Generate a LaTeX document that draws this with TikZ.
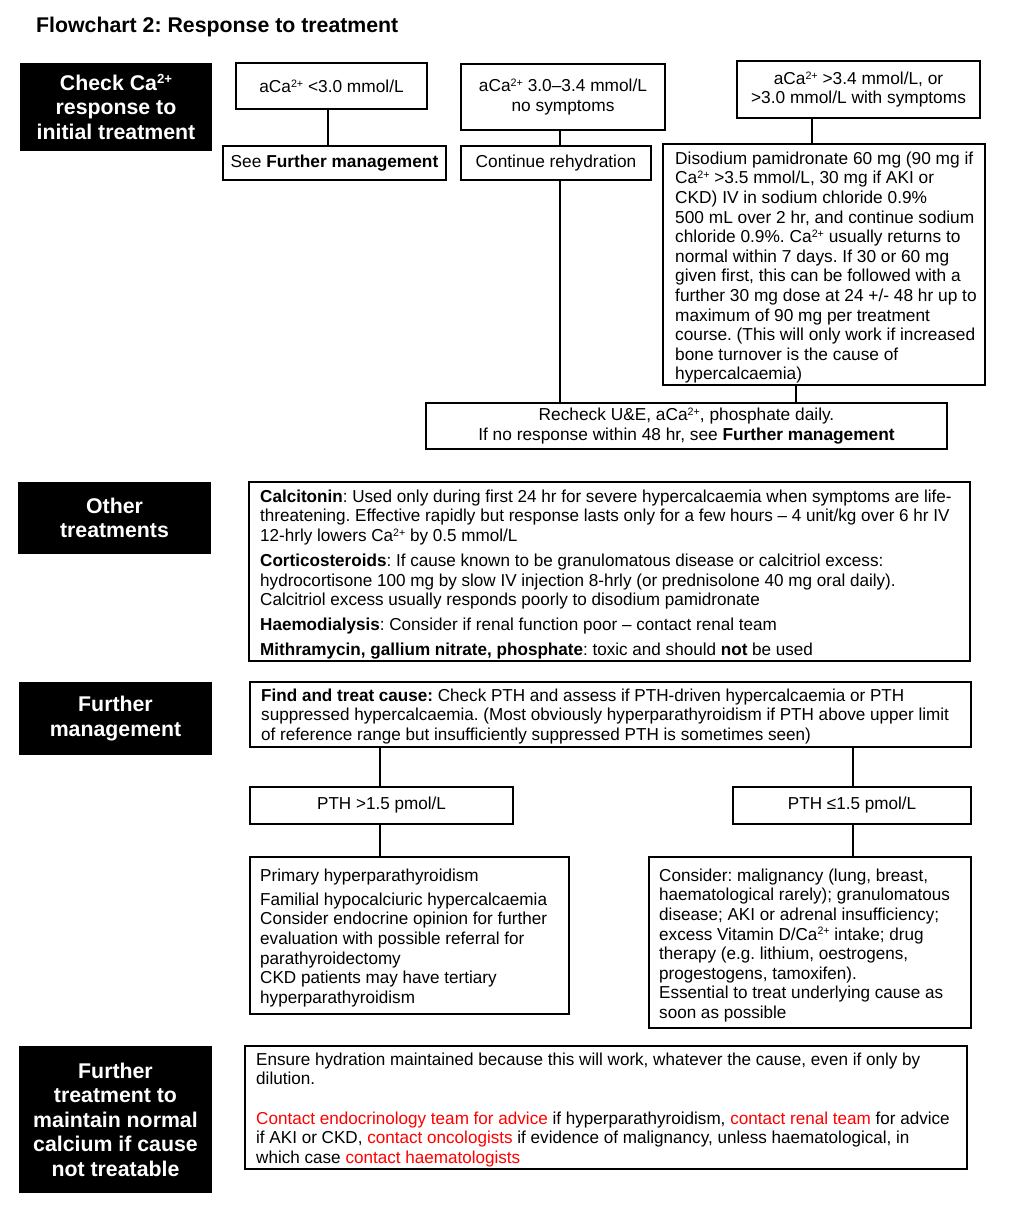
\documentclass[tikz,border=0pt]{standalone}
\usepackage{fontspec}
\setmainfont{Liberation Sans}
\newfontfamily\narrowf[FakeStretch=0.988]{Liberation Sans}
\definecolor{cred}{RGB}{255,0,0}
\newcommand{\tp}{\raisebox{0.3em}{\scalebox{0.62}{2+}}}
\newcommand{\bodyf}{\fontsize{17.3}{19.6}\selectfont}
\newcommand{\narrowbody}{\narrowf\fontsize{17.3}{19.6}\selectfont}
\newcommand{\blkf}{\bfseries\fontsize{21.3}{24.5}\selectfont}
\newcommand{\st}{\rule{0pt}{16pt}}
\newcommand{\rd}[1]{\textcolor{cred}{#1}}
\tikzset{
  box/.style={draw, line width=1.6pt, inner sep=0pt, align=center, font=\bodyf},
  blk/.style={fill=black, text=white, inner sep=0pt, align=center, font=\blkf},
  txt/.style={anchor=north west, inner sep=0pt, align=left, font=\bodyf},
  ntxt/.style={anchor=north west, inner sep=0pt, align=left, font=\narrowbody},
  conn/.style={line width=1.6pt}
}
\begin{document}
\frenchspacing
\begin{tikzpicture}[x=1pt,y=-1pt]
\useasboundingbox (0,0) rectangle (1025,1210);
\node[anchor=base west, inner sep=0pt, font=\bfseries\fontsize{21.3}{24}\selectfont] (title) at (36,32) {Flowchart 2: Response to treatment};

% black labels
\node[blk, minimum width=192pt, minimum height=88pt] (k1) at (116,107) {Check Ca\tp\\response to\\initial treatment};
\node[blk, minimum width=193pt, minimum height=72pt] (k2) at (114.5,518) {Other\\treatments};
\node[blk, minimum width=193pt, minimum height=73pt] (k3) at (115.5,718.5) {Further\\management};
\node[blk, minimum width=193pt, minimum height=147pt] (k4) at (115.5,1119.5) {Further\\treatment to\\maintain normal\\calcium if cause\\not treatable};

% top section
\node[box, minimum width=191pt, minimum height=46pt] (A) at (331.5,86) {aCa\tp{} <3.0 mmol/L};
\node[box, minimum width=223pt, minimum height=34pt] (See) at (334.5,163) {See \textbf{Further management}};
\node[box, minimum width=204pt, minimum height=66pt] (B) at (563,97) {aCa\tp{} 3.0–3.4 mmol/L\\no symptoms};
\node[box, minimum width=190pt, minimum height=34pt] (Cont) at (556,163) {Continue rehydration};
\node[box, minimum width=243pt, minimum height=57pt] (C) at (858.5,89.5) {aCa\tp{} >3.4 mmol/L, or\\>3.0 mmol/L with symptoms};
\node[box, minimum width=322pt, minimum height=241pt] (D) at (824,264.5) {};
\node[txt] (Dt) at (675,148) {\st Disodium pamidronate 60 mg (90 mg if\\
Ca\tp{} >3.5 mmol/L, 30 mg if AKI or\\
CKD) IV in sodium chloride 0.9\%\\
500 mL over 2 hr, and continue sodium\\
chloride 0.9\%. Ca\tp{} usually returns to\\
normal within 7 days. If 30 or 60 mg\\
given first, this can be followed with a\\
further 30 mg dose at 24 +/- 48 hr up to\\
maximum of 90 mg per treatment\\
course. (This will only work if increased\\
bone turnover is the cause of\\
hypercalcaemia)};
\node[box, minimum width=521pt, minimum height=46pt] (Rc) at (686.5,426) {Recheck U\&E, aCa\tp, phosphate daily.\\If no response within 48 hr, see \textbf{Further management}};

% other treatments
\node[box, minimum width=721pt, minimum height=179pt] (Oth) at (609.5,571.5) {};
\node[ntxt] (Ot) at (260,486) {\st\textbf{Calcitonin}: Used only during first 24 hr for severe hypercalcaemia when symptoms are life-\\
threatening. Effective rapidly but response lasts only for a few hours – 4 unit/kg over 6 hr IV\\
12-hrly lowers Ca\tp{} by 0.5 mmol/L\\[5.5pt]
\textbf{Corticosteroids}: If cause known to be granulomatous disease or calcitriol excess:\\
hydrocortisone 100 mg by slow IV injection 8-hrly (or prednisolone 40 mg oral daily).\\
Calcitriol excess usually responds poorly to disodium pamidronate\\[5.5pt]
\textbf{Haemodialysis}: Consider if renal function poor – contact renal team\\[5pt]
\textbf{Mithramycin, gallium nitrate, phosphate}: toxic and should \textbf{not} be used};

% further management
\node[box, minimum width=721pt, minimum height=65pt] (Find) at (610.5,714.5) {};
\node[ntxt] (Ft) at (261,685) {\st\textbf{Find and treat cause:} Check PTH and assess if PTH-driven hypercalcaemia or PTH\\
suppressed hypercalcaemia. (Most obviously hyperparathyroidism if PTH above upper limit\\
of reference range but insufficiently suppressed PTH is sometimes seen)};
\node[box, minimum width=263pt, minimum height=37pt, font=\narrowbody] (P1) at (381.5,805.5) {PTH >1.5 pmol/L};
\node[box, minimum width=238pt, minimum height=37pt, font=\narrowbody] (P2) at (852,805.5) {PTH ≤1.5 pmol/L};
\node[box, minimum width=319pt, minimum height=157pt] (Prim) at (409.5,935.5) {};
\node[ntxt] (Pt) at (260,865) {\st Primary hyperparathyroidism\\[4.5pt]
Familial hypocalciuric hypercalcaemia\\
Consider endocrine opinion for further\\
evaluation with possible referral for\\
parathyroidectomy\\
CKD patients may have tertiary\\
hyperparathyroidism};
\node[box, minimum width=322pt, minimum height=171pt] (Cons) at (810,942.5) {};
\node[ntxt] (Ct) at (659,865) {\st Consider: malignancy (lung, breast,\\
haematological rarely); granulomatous\\
disease; AKI or adrenal insufficiency;\\
excess Vitamin D/Ca\tp{} intake; drug\\
therapy (e.g. lithium, oestrogens,\\
progestogens, tamoxifen).\\
Essential to treat underlying cause as\\
soon as possible};

% hydration
\node[box, minimum width=722pt, minimum height=123pt] (Hyd) at (606,1107.5) {};
\node[ntxt] (Ht) at (256,1049) {\st Ensure hydration maintained because this will work, whatever the cause, even if only by\\
dilution.\\[19.6pt]
\rd{Contact endocrinology team for advice} if hyperparathyroidism, \rd{contact renal team} for advice\\
if AKI or CKD, \rd{contact oncologists} if evidence of malignancy, unless haematological, in\\
which case \rd{contact haematologists}};

% connectors
\coordinate (xa) at (328,0);
\coordinate (xb) at (560,0);
\coordinate (xc) at (812,0);
\coordinate (xd) at (796,0);
\coordinate (xe) at (380,0);
\coordinate (xf) at (853,0);
\draw[conn] (A.south -| xa) -- (See.north -| xa);
\draw[conn] (B.south -| xb) -- (Cont.north -| xb);
\draw[conn] (Cont.south -| xb) -- (Rc.north -| xb);
\draw[conn] (C.south -| xc) -- (D.north -| xc);
\draw[conn] (D.south -| xd) -- (Rc.north -| xd);
\draw[conn] (Find.south -| xe) -- (P1.north -| xe);
\draw[conn] (Find.south -| xf) -- (P2.north -| xf);
\draw[conn] (P1.south -| xe) -- (Prim.north -| xe);
\draw[conn] (P2.south -| xf) -- (Cons.north -| xf);
\end{tikzpicture}
\end{document}
